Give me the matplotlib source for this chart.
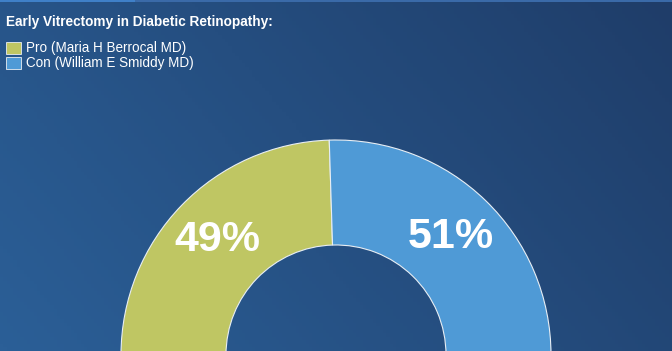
import numpy as np
import matplotlib
matplotlib.use('Agg')
import matplotlib.pyplot as plt
from matplotlib.colors import LinearSegmentedColormap

plt.rcParams['font.family'] = ['Liberation Sans', 'DejaVu Sans']

# chart data
title = "Early Vitrectomy in Diabetic Retinopathy:"
labels = ["Pro (Maria H Berrocal MD)", "Con (William E Smiddy MD)"]
shares = [49, 51]
colors = ["#bfc663", "#4f9ad6"]

W, H = 672, 351
fig = plt.figure(figsize=(W / 100, H / 100), dpi=100)

# background gradient (lighter bottom-left, darker top-right)
bg = fig.add_axes([0, 0, 1, 1])
bg.set_axis_off()
xx, yy = np.meshgrid(np.linspace(0, 1, 200), np.linspace(0, 1, 100))
grad = 0.7 * xx + 0.3 * (1 - yy)
cmap = LinearSegmentedColormap.from_list("bg", ["#2b5f97", "#1f3d69"])
bg.imshow(grad, cmap=cmap, extent=[0, W, 0, H], origin='upper', aspect='auto')
bg.set_xlim(0, W)
bg.set_ylim(0, H)
# thin strip at the top
bg.fill_between([0, W], H - 2, H, color="#3a6aa8", lw=0)
bg.fill_between([0, 135], H - 2, H, color="#3f80c8", lw=0)

ax = fig.add_axes([0, 0, 1, 1])
ax.set_axis_off()
ax.patch.set_alpha(0)

cx, cy = 336, H - 355
r_out, r_in = 215, 110
wedges, _ = ax.pie(shares + [sum(shares)], radius=r_out, center=(cx, cy),
                   startangle=180, counterclock=False,
                   colors=colors + ["none"],
                   wedgeprops=dict(width=r_out - r_in, edgecolor="#e8eef4", linewidth=0.8))
wedges[-1].set_visible(False)
ax.set_xlim(0, W)
ax.set_ylim(0, H)
ax.set_aspect('equal')

# value labels on the wedges
ang = 180
for s in shares:
    mid = np.deg2rad(ang - s * 180 / 100 / 2)
    ang -= s * 180 / 100
    rr = 165
    ax.text(cx + rr * np.cos(mid), cy + rr * np.sin(mid), f"{s}%",
            color="white", fontsize=31, fontweight="bold", ha="center", va="center")

# title and legend
ax.text(6, H - 22, title, color="white", fontsize=9.8, fontweight="bold", va="center")
for i, (lab, c) in enumerate(zip(labels, colors)):
    y = H - 48 - i * 15
    ax.add_patch(plt.Rectangle((6, y - 6), 15, 12, facecolor=c, edgecolor="#e8eef4", lw=0.6))
    ax.text(26, y, lab, color="white", fontsize=9.75, va="center")

fig.savefig("out.png", dpi=100)
